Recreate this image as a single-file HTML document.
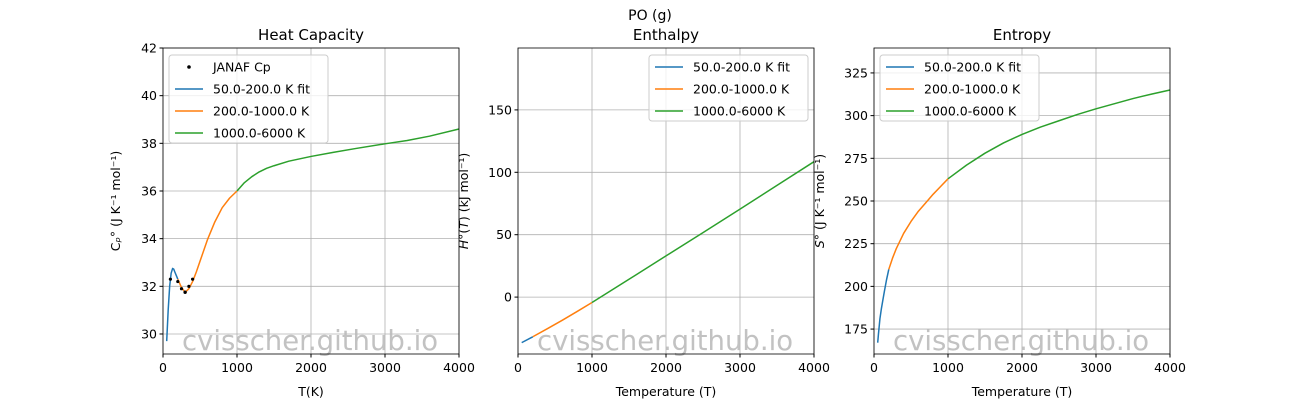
<!DOCTYPE html>
<html><head><meta charset="utf-8"><style>
body{margin:0;background:#fff;}
svg text{font-family:"DejaVu Sans","Liberation Sans",sans-serif;}
</style></head><body>
<svg id="fig" width="1300" height="400" xmlns="http://www.w3.org/2000/svg">
<rect width="1300" height="400" fill="#fff"/>
<text x="650" y="20" text-anchor="middle" font-size="14">PO (g)</text>
</svg>
<script>
// ---- data ----
const cpBlueT=[50,70,90,110,130,145,160,180,200];
const cpBlueV=[29.7,31.0,32.0,32.55,32.75,32.72,32.6,32.45,32.3];
const cpOrangeT=[200,250,300,350,400,450,500,600,700,800,900,1000];
const cpOrangeV=[32.3,31.95,31.75,31.9,32.2,32.6,33.05,33.95,34.7,35.3,35.7,36.0];
const cpGreenT=[1000,1100,1200,1300,1400,1500,1700,2000,2300,2600,3000,3300,3600,4000];
const cpGreenV=[36.0,36.35,36.6,36.8,36.95,37.06,37.25,37.45,37.62,37.78,37.98,38.12,38.3,38.6];
const janafT=[100,200,250,298,300,350,400];
const janafV=[32.3,32.2,31.9,31.75,31.75,32.0,32.3];
const hBlueT=[50,200];const hBlueV=[-36.5,-31.8];
const hOrangeT=[200,400,600,800,1000];const hOrangeV=[-31.8,-25.2,-18.5,-11.5,-4.3];
const hGreenT=[1000,1500,2000,2500,3000,3500,4000];const hGreenV=[-4.3,14.3,33.0,51.7,70.5,89.5,108.5];
const sBlueT=[50,60,80,100,120,140,170,200];const sBlueV=[167,172,181,187,192,197,204,210];
const sOrangeT=[200,250,300,400,500,600,700,800,900,1000];const sOrangeV=[210,216.5,222,231,238,244,249,254,258.5,263];
const sGreenT=[1000,1250,1500,1750,2000,2250,2500,2750,3000,3250,3500,3750,4000];const sGreenV=[263,271,278,284,289,293.3,297,300.7,304,307,310,312.6,315];
const xTicks=[0,1000,2000,3000,4000];
const cpTicks=[30,32,34,36,38,40,42];
const hTicks=[0,50,100,150];
const sTicks=[175,200,225,250,275,300,325];
// ---- drawing ----
const NS="http://www.w3.org/2000/svg";const svg=document.getElementById('fig');
function el(t,a,p){const e=document.createElementNS(NS,t);for(const k in a)e.setAttribute(k,a[k]);(p||svg).appendChild(e);return e;}
const C={b:'#1f77b4',o:'#ff7f0e',g:'#2ca02c'};
function panel(o){
  const g=el('g',{});
  
  
  const x0=o.x,x1=o.x+296,y0=48,y1=354;
  const sx=v=>x0+(v-0)/4000*(x1-x0);
  const sy=v=>y1-(v-o.ymin)/(o.ymax-o.ymin)*(y1-y0);
  xTicks.forEach(t=>{const gl=el('line',{x1:sx(t),x2:sx(t),y1:y0,y2:y1,stroke:'#b0b0b0','stroke-width':0.8},g);
    el('line',{x1:sx(t),x2:sx(t),y1:y1,y2:y1+3.5,stroke:'#000'},g);
    const tx=el('text',{x:sx(t),y:y1+18,'text-anchor':'middle','font-size':12.5},g);tx.textContent=t;});
  o.ticks.forEach(t=>{const gl=el('line',{x1:x0,x2:x1,y1:sy(t),y2:sy(t),stroke:'#b0b0b0','stroke-width':0.8},g);
    el('line',{x1:x0-3.5,x2:x0,y1:sy(t),y2:sy(t),stroke:'#000'},g);
    const tx=el('text',{x:x0-6,y:sy(t)+4.5,'text-anchor':'end','font-size':12.5},g);tx.textContent=t;});
  const wm=el('text',{x:x0+19,y:y1-4,'font-size':27.5,fill:'#bbb','fill-opacity':0.9},g);wm.textContent='cvisscher.github.io';
  o.series.forEach(s=>{const p=el('polyline',{points:s.t.map((t,i)=>sx(t)+','+sy(s.v[i])).join(' '),fill:'none',stroke:s.c,'stroke-width':1.5,'stroke-linejoin':'round'},g);});
  if(o.pts)o.pts.t.forEach((t,i)=>{const c=el('circle',{cx:sx(t),cy:sy(o.pts.v[i]),r:1.6,fill:'#000'},g);});
  const fr=el('rect',{x:x0,y:y0,width:x1-x0,height:y1-y0,fill:'none',stroke:'#000','stroke-width':0.8},g);
  const ti=el('text',{x:(x0+x1)/2,y:40,'text-anchor':'middle','font-size':15},g);ti.textContent=o.title;
  const xl=el('text',{x:(x0+x1)/2,y:396,'text-anchor':'middle','font-size':12.5},g);xl.textContent=o.xl;
  const yl=el('text',{x:0,y:0,'text-anchor':'middle','font-size':12.5,transform:`translate(${o.ylx},${(y0+y1)/2}) rotate(-90)`},g);yl.innerHTML=o.yl;
  const L=o.leg;const lg=el('g',{},g);
  el('rect',{x:L.x,y:55,width:159,height:L.items.length*22,rx:3,fill:'#fff','fill-opacity':0.8,stroke:'#ccc'},lg);
  L.items.forEach((it,i)=>{const yy=67+i*22;const e=el('g',{},lg);
    if(it.dot)el('circle',{cx:L.x+20,cy:yy,r:1.8,fill:'#000'},e);else el('line',{x1:L.x+6,x2:L.x+34,y1:yy,y2:yy,stroke:it.c,'stroke-width':1.5},e);
    const t=el('text',{x:L.x+44,y:yy+4.5,'font-size':12.5},e);t.textContent=it.n;});
}
const L3=[{c:C.b,n:'50.0-200.0 K fit'},{c:C.o,n:'200.0-1000.0 K'},{c:C.g,n:'1000.0-6000 K'}];
panel({name:'heat-capacity-panel',x:163,ymin:29.16,ymax:42,ticks:cpTicks,title:'Heat Capacity',xl:'T(K)',ylx:120,
  yl:'C<tspan font-style="italic">ₚ</tspan>°  (J K⁻¹ mol⁻¹)',
  series:[{t:cpBlueT,v:cpBlueV,c:C.b,n:'cp-fit-50-200'},{t:cpOrangeT,v:cpOrangeV,c:C.o,n:'cp-fit-200-1000'},{t:cpGreenT,v:cpGreenV,c:C.g,n:'cp-fit-1000-6000'}],
  pts:{t:janafT,v:janafV},leg:{x:169,items:[{dot:1,n:'JANAF Cp'}].concat(L3)}});
panel({name:'enthalpy-panel',x:518,ymin:-45.6,ymax:199.6,ticks:hTicks,title:'Enthalpy',xl:'Temperature (T)',ylx:468,
  yl:'<tspan font-style="italic">H</tspan>°(<tspan font-style="italic">T</tspan>) (kJ mol⁻¹)',
  series:[{t:hBlueT,v:hBlueV,c:C.b,n:'h-fit-50-200'},{t:hOrangeT,v:hOrangeV,c:C.o,n:'h-fit-200-1000'},{t:hGreenT,v:hGreenV,c:C.g,n:'h-fit-1000-6000'}],
  leg:{x:649,items:L3}});
panel({name:'entropy-panel',x:874,ymin:160.4,ymax:339.6,ticks:sTicks,title:'Entropy',xl:'Temperature (T)',ylx:824,
  yl:'<tspan font-style="italic">S</tspan>° (J K⁻¹ mol⁻¹)',
  series:[{t:sBlueT,v:sBlueV,c:C.b,n:'s-fit-50-200'},{t:sOrangeT,v:sOrangeV,c:C.o,n:'s-fit-200-1000'},{t:sGreenT,v:sGreenV,c:C.g,n:'s-fit-1000-6000'}],
  leg:{x:880,items:L3}});
</script>
</body></html>
